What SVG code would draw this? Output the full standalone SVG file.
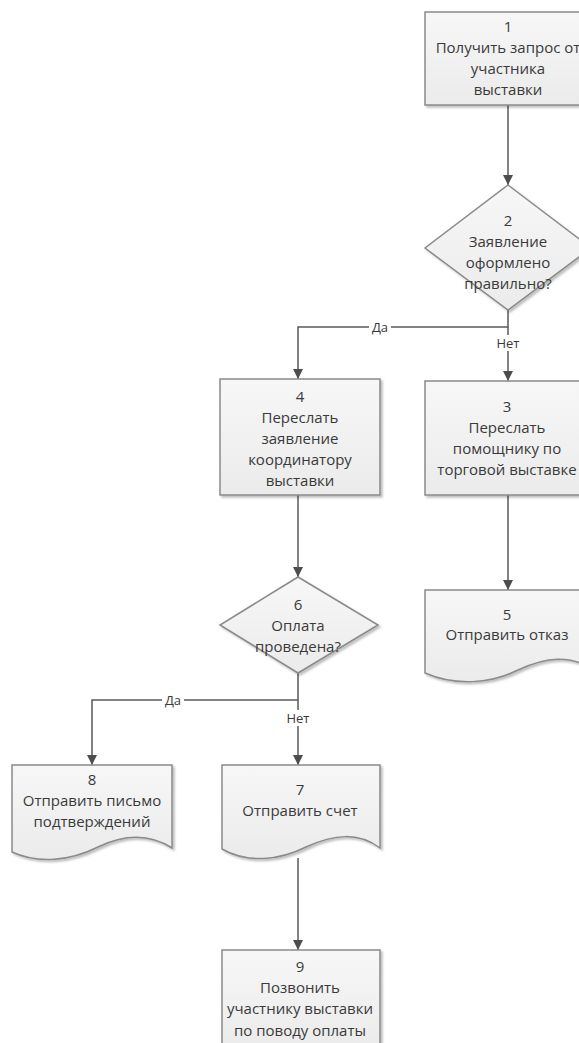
<svg xmlns="http://www.w3.org/2000/svg" width="579" height="1043" viewBox="0 0 579 1043">
  <defs>
    <linearGradient id="fillGrad" x1="0" y1="0" x2="0" y2="1">
      <stop offset="0" stop-color="#f7f7f7"/>
      <stop offset="1" stop-color="#ebebeb"/>
    </linearGradient>
    <filter id="shadow" x="-10%" y="-10%" width="130%" height="130%">
      <feDropShadow dx="2" dy="2" stdDeviation="1.2" flood-color="#000" flood-opacity="0.25"/>
    </filter>
    <marker id="arrow" viewBox="0 0 10 10" refX="10" refY="5" markerWidth="10" markerHeight="10" markerUnits="userSpaceOnUse" orient="auto">
      <path d="M0,0 L10,5 L0,10 Z" fill="#4d4d4d"/>
    </marker>
  </defs>
  <style>
    .shape { fill: url(#fillGrad); stroke: #8a8a8a; stroke-width: 1.5; filter: url(#shadow); }
    .label { font-family: "Open Sans", "Liberation Sans", sans-serif; font-size: 15px; fill: #3a3a3a; text-anchor: middle; }
    .edge { fill: none; stroke: #5a5a5a; stroke-width: 1.5; }
    .tag { font-family: "Open Sans", "Liberation Sans", sans-serif; font-size: 13px; fill: #3a3a3a; text-anchor: middle; }
  </style>

  <rect width="579" height="1043" fill="#ffffff"/>

  <!-- connectors -->
  <g id="connectors">
    <path class="edge" d="M508,105 V185" marker-end="url(#arrow)"/>
    <path class="edge" d="M508,310 V327 H298 V379" marker-end="url(#arrow)"/>
    <path class="edge" d="M508,327 V381" marker-end="url(#arrow)"/>
    <path class="edge" d="M508,495 V590" marker-end="url(#arrow)"/>
    <path class="edge" d="M298,495 V577" marker-end="url(#arrow)"/>
    <path class="edge" d="M298,673 V700 H92 V765" marker-end="url(#arrow)"/>
    <path class="edge" d="M298,700 V765" marker-end="url(#arrow)"/>
    <path class="edge" d="M298,858 V950" marker-end="url(#arrow)"/>
    <!-- branch labels -->
    <rect x="369" y="319" width="22" height="16" fill="#ffffff"/>
    <text class="tag" x="380" y="332">Да</text>
    <rect x="494" y="335" width="28" height="16" fill="#ffffff"/>
    <text class="tag" x="508" y="348">Нет</text>
    <rect x="162" y="692" width="22" height="16" fill="#ffffff"/>
    <text class="tag" x="173" y="705">Да</text>
    <rect x="284" y="710" width="28" height="16" fill="#ffffff"/>
    <text class="tag" x="298" y="723">Нет</text>
  </g>

  <!-- 1: process -->
  <g id="node1">
    <rect class="shape" x="425" y="12" width="166" height="93"/>
    <text class="label" x="508" y="32">1</text>
    <text class="label" x="508" y="53">Получить запрос от</text>
    <text class="label" x="508" y="74">участника</text>
    <text class="label" x="508" y="95">выставки</text>
  </g>

  <!-- 2: decision -->
  <g id="node2">
    <path class="shape" d="M508,185 L591,248 L508,310 L425,248 Z"/>
    <text class="label" x="508" y="226">2</text>
    <text class="label" x="508" y="247">Заявление</text>
    <text class="label" x="508" y="268">оформлено</text>
    <text class="label" x="508" y="289">правильно?</text>
  </g>

  <!-- 4: process -->
  <g id="node4">
    <rect class="shape" x="220" y="379" width="160" height="116"/>
    <text class="label" x="300" y="402">4</text>
    <text class="label" x="300" y="423">Переслать</text>
    <text class="label" x="300" y="444">заявление</text>
    <text class="label" x="300" y="465">координатору</text>
    <text class="label" x="300" y="486">выставки</text>
  </g>

  <!-- 3: process -->
  <g id="node3">
    <rect class="shape" x="425" y="381" width="166" height="114"/>
    <text class="label" x="507" y="412">3</text>
    <text class="label" x="507" y="433">Переслать</text>
    <text class="label" x="507" y="454">помощнику по</text>
    <text class="label" x="507" y="475">торговой выставке</text>
  </g>

  <!-- 5: document -->
  <g id="node5">
    <path class="shape" d="M425,590 H591 V668 C570,656 548,656 518,670 C490,684 455,686 425,673 Z"/>
    <text class="label" x="507" y="620">5</text>
    <text class="label" x="507" y="640">Отправить отказ</text>
  </g>

  <!-- 6: decision -->
  <g id="node6">
    <path class="shape" d="M298,577 L378,625 L298,673 L220,625 Z"/>
    <text class="label" x="298" y="610">6</text>
    <text class="label" x="298" y="631">Оплата</text>
    <text class="label" x="298" y="652">проведена?</text>
  </g>

  <!-- 8: document -->
  <g id="node8">
    <path class="shape" d="M12,765 H172 V848 C150,834 125,834 98,847 C70,861 38,864 12,852 Z"/>
    <text class="label" x="92" y="785">8</text>
    <text class="label" x="92" y="806">Отправить письмо</text>
    <text class="label" x="92" y="827">подтверждений</text>
  </g>

  <!-- 7: document -->
  <g id="node7">
    <path class="shape" d="M222,765 H380 V848 C358,832 334,834 306,847 C280,860 248,864 222,849 Z"/>
    <text class="label" x="300" y="795">7</text>
    <text class="label" x="300" y="816">Отправить счет</text>
  </g>

  <!-- 9: process -->
  <g id="node9">
    <rect class="shape" x="222" y="950" width="158" height="100"/>
    <text class="label" x="300" y="972">9</text>
    <text class="label" x="300" y="993">Позвонить</text>
    <text class="label" x="300" y="1014">участнику выставки</text>
    <text class="label" x="300" y="1036">по поводу оплаты</text>
  </g>
</svg>
